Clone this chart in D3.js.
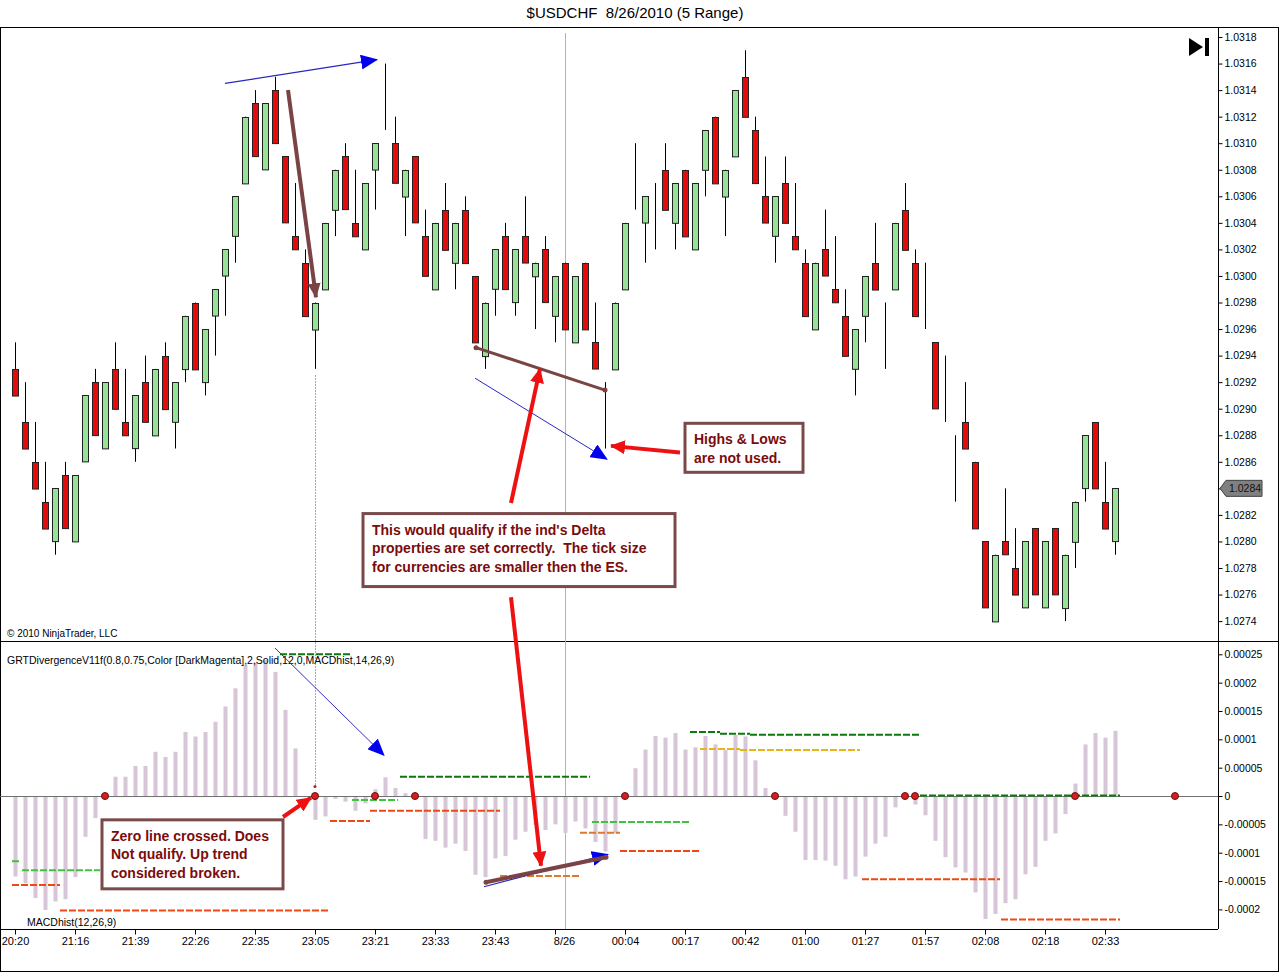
<!DOCTYPE html>
<html>
<head>
<meta charset="utf-8">
<script src="https://cdn.jsdelivr.net/npm/d3@7/dist/d3.min.js"></script>
<style>
  body { margin: 0; background: #fff; }
  svg { display: block; font-family: Arial, "Liberation Sans", sans-serif; }
</style>
</head>
<body>
<div class="chart"></div>
<script>
// $USDCHF 8/26/2010, 5 range bars, with MACD histogram panel

W = 1280
H = 973

// bar data, one entry per range bar
var open = [1.0293,1.0289,1.0286,1.0283,1.0280,1.0285,1.0280,1.0286,1.0292,1.0287,
  1.0293,1.0289,1.0287,1.0292,1.0288,1.0294,1.0289,1.0293,1.0298,1.0292,
  1.0297,1.0300,1.0303,1.0307,1.0313,1.0308,1.0314,1.0309,1.0303,1.0301,
  1.0296,1.0299,1.0305,1.0309,1.0304,1.0302,1.0308,1.0311,1.0310,1.0306,
  1.0309,1.0303,1.0299,1.0305,1.0301,1.0305,1.0300,1.0294,1.0299,1.0303,
  1.0298,1.0303,1.0300,1.0302,1.0297,1.0301,1.0295,1.0301,1.0295,1.0292,
  1.0293,1.0299,1.0305,1.0304,1.0307,1.0308,1.0304,1.0308,1.0302,1.0308,
  1.0312,1.0306,1.0309,1.0315,1.0311,1.0306,1.0303,1.0307,1.0303,1.0301,
  1.0296,1.0302,1.0299,1.0297,1.0293,1.0297,1.0301,1.0298,1.0299,1.0305,
  1.0301,1.0296,1.0295,1.0289,1.0288,1.0289,1.0286,1.0280,1.0274,1.0280,
  1.0278,1.0275,1.0281,1.0275,1.0281,1.0275,1.0280,1.0284,1.0289,1.0283,
  1.0280];
var high = [1.0295,1.0292,1.0289,1.0286,1.0284,1.0286,1.0285,1.0291,1.0293,1.0292,
  1.0295,1.0293,1.0291,1.0294,1.0293,1.0295,1.0292,1.0297,1.0298,1.0296,
  1.0299,1.0302,1.0306,1.0312,1.0314,1.0313,1.0315,1.0309,1.0307,1.0302,
  1.0298,1.0304,1.0308,1.0310,1.0308,1.0307,1.0310,1.0316,1.0312,1.0308,
  1.0309,1.0305,1.0304,1.0307,1.0304,1.0306,1.0300,1.0298,1.0302,1.0304,
  1.0302,1.0306,1.0301,1.0303,1.0300,1.0301,1.0300,1.0301,1.0298,1.0292,
  1.0298,1.0304,1.0310,1.0306,1.0307,1.0310,1.0307,1.0308,1.0307,1.0311,
  1.0312,1.0308,1.0314,1.0317,1.0312,1.0309,1.0306,1.0309,1.0307,1.0302,
  1.0301,1.0305,1.0303,1.0299,1.0296,1.0300,1.0304,1.0298,1.0304,1.0307,
  1.0302,1.0301,1.0295,1.0294,1.0288,1.0292,1.0286,1.0280,1.0279,1.0284,
  1.0281,1.0280,1.0281,1.0280,1.0281,1.0279,1.0283,1.0288,1.0289,1.0286,
  1.0284];
var low = [1.0291,1.0287,1.0284,1.0281,1.0279,1.0281,1.0280,1.0286,1.0288,1.0287,
  1.0290,1.0288,1.0286,1.0289,1.0288,1.0290,1.0287,1.0292,1.0293,1.0291,
  1.0294,1.0297,1.0301,1.0307,1.0309,1.0308,1.0310,1.0304,1.0302,1.0297,
  1.0293,1.0299,1.0303,1.0305,1.0303,1.0302,1.0305,1.0311,1.0307,1.0303,
  1.0304,1.0300,1.0299,1.0302,1.0299,1.0301,1.0295,1.0293,1.0297,1.0299,
  1.0297,1.0301,1.0296,1.0298,1.0295,1.0296,1.0295,1.0296,1.0293,1.0287,
  1.0293,1.0299,1.0305,1.0301,1.0302,1.0305,1.0302,1.0303,1.0302,1.0306,
  1.0307,1.0303,1.0309,1.0312,1.0307,1.0304,1.0301,1.0304,1.0302,1.0297,
  1.0296,1.0300,1.0298,1.0294,1.0291,1.0295,1.0299,1.0293,1.0299,1.0302,
  1.0297,1.0296,1.0290,1.0289,1.0283,1.0287,1.0281,1.0275,1.0274,1.0279,
  1.0276,1.0275,1.0276,1.0275,1.0276,1.0274,1.0278,1.0283,1.0284,1.0281,
  1.0279];
var close = [1.0291,1.0287,1.0284,1.0281,1.0284,1.0281,1.0285,1.0291,1.0288,1.0292,
  1.0290,1.0288,1.0291,1.0289,1.0293,1.0290,1.0292,1.0297,1.0293,1.0296,
  1.0299,1.0302,1.0306,1.0312,1.0309,1.0313,1.0310,1.0304,1.0302,1.0297,
  1.0298,1.0304,1.0308,1.0305,1.0303,1.0307,1.0310,1.0311,1.0307,1.0308,
  1.0304,1.0300,1.0304,1.0302,1.0304,1.0301,1.0295,1.0298,1.0302,1.0299,
  1.0302,1.0301,1.0301,1.0298,1.0300,1.0296,1.0300,1.0296,1.0293,1.0292,
  1.0298,1.0304,1.0305,1.0306,1.0307,1.0305,1.0307,1.0303,1.0307,1.0311,
  1.0307,1.0308,1.0314,1.0312,1.0307,1.0304,1.0306,1.0304,1.0302,1.0297,
  1.0301,1.0300,1.0298,1.0294,1.0296,1.0300,1.0299,1.0298,1.0304,1.0302,
  1.0297,1.0296,1.0290,1.0289,1.0288,1.0287,1.0281,1.0275,1.0279,1.0279,
  1.0276,1.0280,1.0276,1.0280,1.0276,1.0279,1.0283,1.0288,1.0284,1.0281,
  1.0284];

// MACDhist(12,26,9)
var macdHist = [-0.000142,-0.000154,-0.000180,-0.000201,-0.000186,-0.000182,-0.000143,-0.000072,-0.000039,0,
  0.000034,0.000034,0.000053,0.000053,0.000078,0.000069,0.000078,0.000113,0.000105,0.000113,
  0.000131,0.000158,0.000190,0.000231,0.000235,0.000240,0.000219,0.000152,0.000084,0,
  -0.000042,-0.000036,-0.000005,-0.000010,-0.000026,-0.000013,0.000012,0.000033,0.000014,0.000005,
  0.000002,-0.000076,-0.000079,-0.000091,-0.000084,-0.000097,-0.000139,-0.000143,-0.000110,-0.000106,
  -0.000077,-0.000063,-0.000051,-0.000060,-0.000050,-0.000065,-0.000045,-0.000057,-0.000081,-0.000098,
  -0.000066,0,0.000049,0.000082,0.000106,0.000103,0.000111,0.000082,0.000086,0.000106,
  0.000091,0.000081,0.000108,0.000105,0.000063,0.000014,0,-0.000035,-0.000063,-0.000113,
  -0.000113,-0.000114,-0.000123,-0.000147,-0.000142,-0.000107,-0.000084,-0.000072,-0.000020,0,
  -0.000015,-0.000034,-0.000079,-0.000108,-0.000126,-0.000135,-0.000170,-0.000217,-0.000208,-0.000189,
  -0.000182,-0.000138,-0.000125,-0.000079,-0.000066,-0.000032,0.000022,0.000091,0.000111,0.000103,
  0.000115];

// zero line crossings marked by the divergence indicator
var zeroCross = [9, 30, 36, 40, 61, 76, 89, 90, 106, 116];

// divergence levels: [from bar, to bar, value]
var lightGreenLevels = [[-0.3,0.5,-0.000115],[0.7,8.5,-0.000131],[33.7,38.3,-0.000007],[57.7,67.5,-0.000046]];
var darkGreenLevels = [[26.5,33.5,0.000250],[38.5,57.5,0.000034],[67.5,70.5,0.000113],[70.5,73.5,0.000110],[73.5,90.5,0.000108],[90.5,110.5,0.000001]];
var redLevels = [[-0.3,4.5,-0.000157],[4.5,31.5,-0.000202],[31.5,35.5,-0.000044],[35.5,48.5,-0.000026],[60.5,68.5,-0.000097],[84.7,98.5,-0.000147],[98.6,110.5,-0.000218]];
var orangeLevels = [[48.5,56.5,-0.000141],[56.5,60.5,-0.000065]];
var goldLevels = [[68.5,72.5,0.000083],[72.5,84.5,0.000081]];

// axes
var timeTicks = [0,6,12,18,24,30,36,42,48,54,61,67,73,79,85,91,97,103,109];
var timeLabels = ["20:20","21:16","21:39","22:26","22:35","23:05","23:21","23:33","23:43","8/26",
  "00:04","00:17","00:42","01:00","01:27","01:57","02:08","02:18","02:33"];
var priceTicks = [1.0318,1.0316,1.0314,1.0312,1.0310,1.0308,1.0306,1.0304,1.0302,1.0300,1.0298,1.0296,
  1.0294,1.0292,1.0290,1.0288,1.0286,1.0284,1.0282,1.0280,1.0278,1.0276,1.0274];
var histTicks = [0.00025,0.0002,0.00015,0.0001,0.00005,0,-0.00005,-0.0001,-0.00015,-0.0002];
var lastPrice = 1.0284;
var dateBreak = 55;

var svg = d3.select(".chart").append("svg")
  .attr("width", W)
  .attr("height", H);

var x = d3.scaleLinear().domain([0, 110]).range([15, 1115]);
var y = d3.scaleLinear().domain([1.0274, 1.0318]).range([621.1, 37]);
var yh = d3.scaleLinear().domain([-0.0002, 0.00025]).range([909.4, 654.3]);

// arrow heads
var defs = svg.append("defs");
function head(id, color, len, wid) {
  defs.append("marker")
    .attr("id", id)
    .attr("markerUnits", "userSpaceOnUse")
    .attr("viewBox", "0 0 " + len + " " + wid)
    .attr("refX", len - 1)
    .attr("refY", wid / 2)
    .attr("markerWidth", len)
    .attr("markerHeight", wid)
    .attr("orient", "auto")
    .append("path")
    .attr("d", "M0,0L" + len + "," + (wid / 2) + "L0," + wid + "Z")
    .style("fill", color);
}
head("blueHead", "#0000ee", 17, 15);
head("redHead", "#ee1111", 15, 14);
head("brownHead", "#7a4444", 15, 13);

// title
svg.append("text")
  .attr("x", 635).attr("y", 18)
  .attr("text-anchor", "middle")
  .style("font-size", "15px")
  .style("white-space", "pre")
  .text("$USDCHF  8/26/2010 (5 Range)");

// frame and panel borders
svg.append("rect")
  .attr("x", 0.5).attr("y", 27.5).attr("width", 1278).attr("height", 944)
  .style("fill", "none").style("stroke", "#000");
svg.append("line")
  .attr("x1", 0).attr("x2", 1279).attr("y1", 641.5).attr("y2", 641.5)
  .style("stroke", "#000");
svg.append("line")
  .attr("x1", 0).attr("x2", 1218).attr("y1", 929.5).attr("y2", 929.5)
  .style("stroke", "#000");

// date break line
svg.append("line")
  .attr("x1", x(dateBreak) + 0.5).attr("x2", x(dateBreak) + 0.5)
  .attr("y1", 33).attr("y2", 929)
  .style("stroke", "#b4b4b4");

// price axis
var pAxis = svg.append("g")
  .attr("transform", "translate(1218.5,0)")
  .call(d3.axisRight(y).tickValues(priceTicks).tickFormat(d3.format(".4f")).tickSize(4).tickSizeOuter(0));
pAxis.select(".domain").attr("d", "M0,28V641");
pAxis.selectAll("text").style("font-size", "10.5px").attr("x", 6);
// the last price tag covers its own axis label
pAxis.selectAll(".tick").filter(function(d) { return d === lastPrice; }).select("text").remove();

// histogram axis
var hAxis = svg.append("g")
  .attr("transform", "translate(1218.5,0)")
  .call(d3.axisRight(yh).tickValues(histTicks).tickFormat(function(d) { return d === 0 ? "0" : String(+d.toFixed(5)); }).tickSize(4).tickSizeOuter(0));
hAxis.select(".domain").attr("d", "M0,642V929");
hAxis.selectAll("text").style("font-size", "10.5px").attr("x", 6);

// time axis
var tAxis = svg.append("g")
  .attr("transform", "translate(0,929.5)")
  .call(d3.axisBottom(x).tickValues(timeTicks).tickFormat(function(d, i) { return timeLabels[i]; }).tickSize(5).tickSizeOuter(0));
tAxis.select(".domain").remove();
tAxis.selectAll("text").style("font-size", "11px").attr("y", 8);
tAxis.selectAll(".tick").filter(function(d) { return d === 54; }).select("text").attr("dx", 9);

// wicks
var bars = d3.range(open.length);
svg.append("g").selectAll("line")
  .data(bars)
  .join("line")
  .attr("x1", function(i) { return Math.round(x(i)) + 0.5; })
  .attr("x2", function(i) { return Math.round(x(i)) + 0.5; })
  .attr("y1", function(i) { return y(high[i]); })
  .attr("y2", function(i) { return y(low[i]); })
  .style("stroke", "#000");

// bodies
svg.append("g").selectAll("rect")
  .data(bars)
  .join("rect")
  .attr("x", function(i) { return Math.round(x(i)) - 2.5; })
  .attr("y", function(i) { return Math.round(y(Math.max(open[i], close[i]))) + 0.5; })
  .attr("width", 6)
  .attr("height", function(i) { return Math.abs(y(open[i]) - y(close[i])); })
  .style("fill", function(i) { return close[i] > open[i] ? "#96e296" : "#e30b0b"; })
  .style("stroke", "#222")
  .style("stroke-width", 1);

// last price marker
var lp = svg.append("g").attr("transform", "translate(1220," + y(lastPrice) + ")");
lp.append("path")
  .attr("d", "M0,0L6,-8H42V8H6Z")
  .style("fill", "#808080").style("stroke", "#404040");
lp.append("text")
  .attr("x", 9).attr("y", 4)
  .style("font-size", "10.5px").style("fill", "#111")
  .text(d3.format(".4f")(lastPrice));

// go to end button
svg.append("path").attr("d", "M1189,38L1203,47L1189,56Z").style("fill", "#000");
svg.append("rect").attr("x", 1205).attr("y", 38).attr("width", 4).attr("height", 18).style("fill", "#000");

svg.append("text")
  .attr("x", 7).attr("y", 637)
  .style("font-size", "10px")
  .text("\u00a9 2010 NinjaTrader, LLC");

// histogram bars
svg.append("g").selectAll("rect")
  .data(bars)
  .join("rect")
  .attr("x", function(i) { return Math.round(x(i)) - 1.5; })
  .attr("y", function(i) { return yh(Math.max(0, macdHist[i])); })
  .attr("width", 4)
  .attr("height", function(i) { return Math.abs(yh(macdHist[i]) - yh(0)); })
  .style("fill", "#d6c6d8");

// zero line
svg.append("line")
  .attr("x1", 0).attr("x2", 1218)
  .attr("y1", yh(0) + 0.5).attr("y2", yh(0) + 0.5)
  .style("stroke", "#707070");

// divergence levels
function levels(data, color) {
  svg.append("g").selectAll("line")
    .data(data)
    .join("line")
    .attr("x1", function(d) { return x(d[0]); })
    .attr("x2", function(d) { return x(d[1]); })
    .attr("y1", function(d) { return yh(d[2]); })
    .attr("y2", function(d) { return yh(d[2]); })
    .style("stroke", color)
    .style("stroke-width", 2)
    .style("stroke-dasharray", "7,2");
}
levels(lightGreenLevels, "#3cc43c");
levels(darkGreenLevels, "#0a7a0a");
levels(redLevels, "#f04810");
levels(orangeLevels, "#e0782a");
levels(goldLevels, "#e8b418");

// zero cross dots
svg.append("g").selectAll("circle")
  .data(zeroCross)
  .join("circle")
  .attr("cx", function(i) { return x(i); })
  .attr("cy", yh(0))
  .attr("r", 3.5)
  .style("fill", "#d42020")
  .style("stroke", "#601010");

svg.append("text")
  .attr("x", 7).attr("y", 664)
  .style("font-size", "10.5px")
  .text("GRTDivergenceV11f(0.8,0.75,Color [DarkMagenta],2,Solid,12,0,MACDhist,14,26,9)");
svg.append("text")
  .attr("x", 27).attr("y", 926)
  .style("font-size", "10.5px")
  .text("MACDhist(12,26,9)");

// ---- annotations ----

// dotted marker from the low of bar 30 down to the zero line
svg.append("line")
  .attr("x1", x(30) + 0.5).attr("x2", x(30) + 0.5)
  .attr("y1", y(1.02925)).attr("y2", yh(0.000017))
  .style("stroke", "#555").style("stroke-dasharray", "1,2");
svg.append("circle")
  .attr("cx", x(30)).attr("cy", yh(0.000017)).attr("r", 1.5)
  .style("fill", "#b02020");

function arrow(x1, y1, x2, y2, color, width, marker) {
  svg.append("line")
    .attr("x1", x1).attr("y1", y1).attr("x2", x2).attr("y2", y2)
    .style("stroke", color)
    .style("stroke-width", width)
    .attr("marker-end", marker ? "url(#" + marker + ")" : null);
}
function dotLine(x1, y1, x2, y2, width) {
  arrow(x1, y1, x2, y2, "#7a4444", width, null);
  svg.append("circle").attr("cx", x1).attr("cy", y1).attr("r", 2.5).style("fill", "#7a4444");
  svg.append("circle").attr("cx", x2).attr("cy", y2).attr("r", 2.5).style("fill", "#7a4444");
}

// price panel
arrow(x(21), y(1.03145), x(36.2), y(1.03163), "#2828c0", 1.2, "blueHead");
arrow(x(27.3), y(1.0314), x(30.1), y(1.02984), "#7a4444", 4, "brownHead");
dotLine(x(46.1), y(1.02946), x(59), y(1.02914), 3);
arrow(x(46), y(1.02923), x(59.2), y(1.02862), "#2828c0", 1, "blueHead");

// histogram panel
arrow(x(26), yh(0.000261), x(36.9), yh(0.000072), "#3030c0", 1, "blueHead");
arrow(x(46.9), yh(-0.00016), x(59.3), yh(-0.000103), "#2828c0", 1.2, "blueHead");
dotLine(x(47.1), yh(-0.000152), x(59.1), yh(-0.000108), 4);

// red pointers from the text boxes
arrow(x(66.5), y(1.02867), x(59.6), y(1.02872), "#ee1111", 4, "redHead");
arrow(x(49.6), y(1.02829), x(52.5), y(1.0293), "#ee1111", 4, "redHead");
arrow(x(49.6), y(1.02758), x(52.6), yh(-0.000123), "#ee1111", 4, "redHead");
arrow(x(26.8), yh(-0.000037), x(29.6), yh(-0.000003), "#ee1111", 4, "redHead");

// text boxes
function note(bx, by, w, h, lines) {
  var g = svg.append("g").attr("transform", "translate(" + bx + "," + by + ")");
  g.append("rect")
    .attr("width", w).attr("height", h)
    .style("fill", "#fff")
    .style("stroke", "#7a4a4a")
    .style("stroke-width", 3);
  g.selectAll("text")
    .data(lines)
    .join("text")
    .attr("x", 9)
    .attr("y", function(d, i) { return 21 + i * 18.5; })
    .style("font-size", "14px")
    .style("font-weight", "bold")
    .style("white-space", "pre")
    .style("fill", "#7a0c0c")
    .text(function(d) { return d; });
}
note(x(67), y(1.02889), 118, 49, ["Highs & Lows", "are not used."]);
note(x(34.8), y(1.02821), 312, 73, ["This would qualify if the ind's Delta",
  "properties are set correctly.  The tick size",
  "for currencies are smaller then the ES."]);
note(x(8.7), yh(-0.000042), 181, 69, ["Zero line crossed. Does", "Not qualify. Up trend", "considered broken."]);
</script>
</body>
</html>
